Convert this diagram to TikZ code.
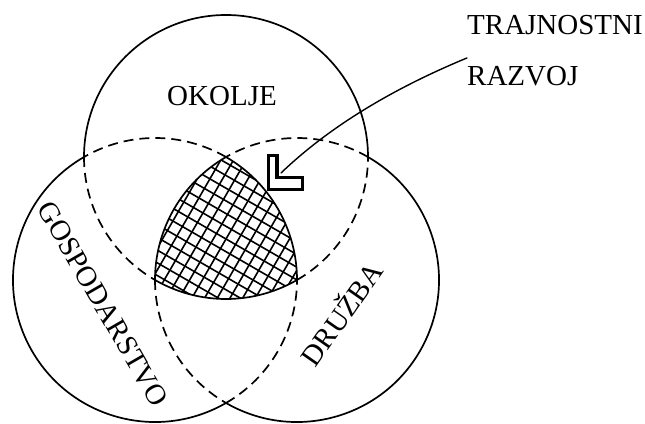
\documentclass[tikz,border=0pt]{standalone}
\usepackage{fontspec}
\setmainfont{Liberation Serif}
\usetikzlibrary{positioning,calc}
\tikzset{
  krog/.style    = {line width=1.7pt},
  polno/.style   = {krog},
  crtkano/.style = {krog, dash pattern=on 10pt off 6pt},
  srafura/.style = {line width=1.6pt},
  oznaka/.style  = {line width=3.5pt, line join=miter},
  puscica/.style = {line width=1.4pt, line cap=round},
  napis/.style   = {font=\fontsize{29}{34}\selectfont, inner sep=0pt}
}
\newcommand{\polmer}{142}

\begin{document}
\begin{tikzpicture}[x=1pt, y=1pt]
  \useasboundingbox (0,0) rectangle (645,423);
  \coordinate (G) at (155,143);
  \coordinate (D) at (297,143);
  \coordinate (O) at (226,266);

  \begin{scope}
    \clip (O) arc[start angle=60, end angle=0, radius=\polmer]
              arc[start angle=300, end angle=240, radius=\polmer]
              arc[start angle=180, end angle=120, radius=\polmer] -- cycle;
    \begin{scope}[shift={(226,184)}, rotate=-30]
      \foreach \i in {-8,...,8} {
        \draw[srafura] (-110,\i*11) -- (110,\i*11);
        \draw[srafura] (\i*11,-110) -- (\i*11,110);
      }
    \end{scope}
  \end{scope}

  \foreach \sr/\kot in {G/0, D/120, O/240} {
    \pgfmathsetmacro{\kb}{\kot+60}
    \pgfmathsetmacro{\kc}{\kot+120}
    \pgfmathsetmacro{\kd}{\kot+300}
    \draw[polno]   (\sr) ++(\kot:\polmer) arc[start angle=\kot, delta angle=60, radius=\polmer];
    \draw[crtkano] (\sr) ++(\kb:\polmer) arc[start angle=\kb, delta angle=60, radius=\polmer];
    \draw[polno]   (\sr) ++(\kc:\polmer) arc[start angle=\kc, delta angle=180, radius=\polmer];
    \draw[crtkano] (\sr) ++(\kd:\polmer) arc[start angle=\kd, delta angle=60, radius=\polmer];
  }

  \draw[oznaka] (268.5,267.5) -- (277,267.5) -- (277,245.5) -- (302.5,245.5)
                -- (302.5,233.5) -- (268.5,233.5) -- cycle;
  \coordinate (konica) at (281,250);

  \node[napis] (okolje) at (222,327) {OKOLJE};
  \node[napis, rotate=-60] (gospodarstvo) at (103,119) {GOSPODARSTVO};
  \node[napis, rotate=55] (druzba) at (340,110) {DRUŽBA};
  \node[napis, anchor=base west] (trajnostni) at (467,388) {TRAJNOSTNI};
  \node[napis, anchor=base west] (razvoj) at ([yshift=-51pt]trajnostni.base west) {RAZVOJ};
  \coordinate (zacetek) at ($(trajnostni.base west)!0.45!(razvoj.base west)$);

  \draw[puscica] (zacetek) .. controls (392,334) and (329,296) .. (konica);
\end{tikzpicture}
\end{document}
